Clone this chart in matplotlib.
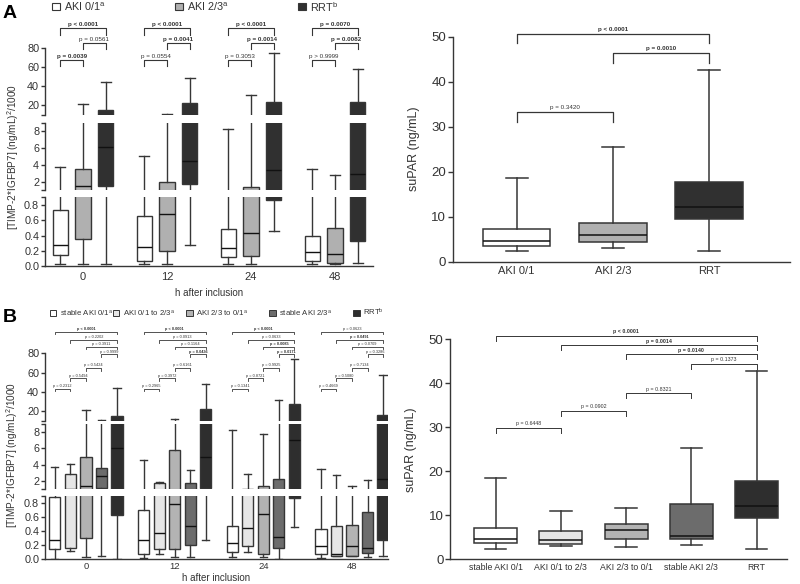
import matplotlib
matplotlib.use('Agg')
import matplotlib.pyplot as plt
from matplotlib.patches import Rectangle

plt.rcParams['font.family'] = ['Liberation Sans', 'DejaVu Sans']
plt.rcParams['mathtext.fontset'] = 'custom'
plt.rcParams['mathtext.rm'] = 'Liberation Sans'
plt.rcParams['mathtext.it'] = 'Liberation Sans:italic'
plt.rcParams['mathtext.bf'] = 'Liberation Sans:bold'

# ---------------- data ----------------
hours = ['0', '12', '24', '48']

# panel A left: TIMP-2*IGFBP7, rows = AKI 0/1, AKI 2/3, RRT ; cols = hours
a_groups = ['AKI 0/1', 'AKI 2/3', 'RRT']
a_low = [[0.02, 0.02, 0.03, 0.02], [0.03, 0.03, 0.02, 0.03], [0.03, 0.27, 0.46, 0.04]]
a_q1 = [[0.15, 0.07, 0.12, 0.06], [0.35, 0.20, 0.13, 0.04], [1.5, 1.7, 0.87, 0.33]]
a_med = [[0.27, 0.25, 0.24, 0.18], [1.5, 0.68, 0.43, 0.16], [6.1, 4.5, 3.4, 2.9]]
a_q3 = [[0.73, 0.65, 0.49, 0.39], [3.5, 1.9, 1.4, 0.5], [14.5, 22, 23.5, 23.5]]
a_high = [[3.7, 5.1, 8.3, 3.5], [21, 11, 31, 2.8], [44, 48.5, 75, 58]]
a_p = [['p = 0.0039', 'p = 0.0561', 'p < 0.0001'],
       ['p = 0.0554', 'p = 0.0041', 'p < 0.0001'],
       ['p = 0.3053', 'p = 0.0014', 'p < 0.0001'],
       ['p > 0.9999', 'p = 0.0082', 'p = 0.0070']]

# panel B left: rows = stable AKI 0/1, AKI 0/1 to 2/3, AKI 2/3 to 0/1, stable AKI 2/3, RRT
b_groups = ['stable AKI 0/1', 'AKI 0/1 to 2/3', 'AKI 2/3 to 0/1', 'stable AKI 2/3', 'RRT']
b_low = [[0.01, 0.02, 0.03, 0.02], [0.12, 0.07, 0.11, 0.04], [0.03, 0.03, 0.03, 0.04],
         [0.04, 0.03, 0.01, 0.03], [0.01, 0.27, 0.46, 0.04]]
b_q1 = [[0.15, 0.08, 0.10, 0.07], [0.16, 0.15, 0.19, 0.05], [0.30, 0.15, 0.08, 0.05],
        [1.15, 0.21, 0.16, 0.09], [0.63, 1.1, 0.87, 0.28]]
b_med = [[0.27, 0.27, 0.23, 0.19], [1.05, 0.37, 0.44, 0.07], [1.4, 0.78, 0.64, 0.19],
         [2.6, 0.47, 0.31, 0.16], [6.1, 4.9, 7.0, 2.3]]
b_q3 = [[0.88, 0.70, 0.47, 0.43], [2.9, 1.8, 1.05, 0.48], [5.0, 5.8, 1.4, 0.49],
        [3.6, 1.8, 2.3, 0.67], [15, 22, 27, 16]]
b_high = [[3.7, 4.6, 8.3, 3.5], [4.1, 1.95, 2.9, 2.8], [21, 11.5, 7.8, 1.35],
          [11, 3.4, 31, 2.2], [44, 48, 74, 57]]
b_p_rrt = [['p < 0.0001', 'p = 0.2202', 'p = 0.3911', 'p = 0.9999'],
           ['p < 0.0001', 'p = 0.0913', 'p = 0.1164', 'p = 0.0436'],
           ['p < 0.0001', 'p = 0.0633', 'p = 0.0085', 'p = 0.0171'],
           ['p = 0.0623', 'p = 0.0491', 'p = 0.0709', 'p = 0.3286']]
b_p_step = [['p = 0.2312', 'p = 0.5494', 'p = 0.5424'],
            ['p = 0.2965', 'p = 0.3972', 'p = 0.6161'],
            ['p = 0.1341', 'p = 0.8721', 'p = 0.9925'],
            ['p = 0.4669', 'p = 0.5080', 'p = 0.7134']]

# suPAR panels
sa_groups = ['AKI 0/1', 'AKI 2/3', 'RRT']
sa_low = [2.4, 3.0, 2.4]
sa_q1 = [3.4, 4.4, 9.4]
sa_med = [4.7, 6.0, 12.1]
sa_q3 = [7.3, 8.6, 17.7]
sa_high = [18.5, 25.4, 42.6]
sa_p = [(0, 1, 'p = 0.3420'), (1, 2, 'p = 0.0010'), (0, 2, 'p < 0.0001')]

sb_groups = ['stable AKI 0/1', 'AKI 0/1 to 2/3', 'AKI 2/3 to 0/1', 'stable AKI 2/3', 'RRT']
sb_low = [2.4, 3.0, 2.9, 3.2, 2.4]
sb_q1 = [3.6, 3.4, 4.7, 4.6, 9.4]
sb_med = [4.7, 4.3, 6.6, 5.4, 12.1]
sb_q3 = [7.1, 6.4, 8.1, 12.5, 17.7]
sb_high = [18.5, 11.0, 11.6, 25.4, 42.7]
sb_p = [(0, 1, 'p = 0.6448'), (1, 2, 'p = 0.0902'), (2, 3, 'p = 0.8321'),
        (3, 4, 'p = 0.1373'), (2, 4, 'p = 0.0140'), (1, 4, 'p = 0.0014'), (0, 4, 'p < 0.0001')]

# ---------------- style ----------------
EDGE = '#363636'
TXT = '#333333'
a_colors = ['white', '#b0b0b0', '#303030']
b_colors = ['white', '#e6e6e6', '#b3b3b3', '#6c6c6c', '#2e2e2e']

W, H = 800, 584
fig = plt.figure(figsize=(8, 5.84), dpi=100)


def fax(x0, y0, x1, y1):
    # pixel box, origin top-left
    return fig.add_axes([x0 / W, 1 - y1 / H, (x1 - x0) / W, (y1 - y0) / H])


def sig(t):
    v = float(t.split()[-1])
    return ('<' in t) or ('>' not in t and v < 0.05)


def bracket(ax, xa, xb, y, leg, text, fs, lw, gap):
    ax.plot([xa, xa, xb, xb], [y - leg, y, y, y - leg], color=EDGE, lw=lw, clip_on=False)
    ax.text((xa + xb) / 2, y + gap, text, ha='center', va='bottom', fontsize=fs,
            fontweight='bold' if sig(text) else 'normal', color=TXT, clip_on=False)


def style(ax, yfs, tlen=3.5):
    for s in ['top', 'right']:
        ax.spines[s].set_visible(False)
    for s in ['left', 'bottom']:
        ax.spines[s].set_color(EDGE)
        ax.spines[s].set_linewidth(1.0)
    ax.tick_params(axis='y', direction='out', length=tlen, width=1.0, color=EDGE,
                   labelsize=yfs, labelcolor=TXT, pad=1.2)
    ax.tick_params(axis='x', length=0, labelcolor=TXT, pad=3)
    ax.patch.set_alpha(0)


def draw_boxes(ax, low, q1, med, q3, high, pos, width, cap, color, lw):
    stats = [dict(whislo=low[t], q1=q1[t], med=med[t], q3=q3[t], whishi=high[t])
             for t in range(len(low))]
    ax.bxp(stats, positions=pos, widths=width, capwidths=cap, patch_artist=True,
           showfliers=False, manage_ticks=False,
           boxprops=dict(facecolor=color, edgecolor=EDGE, lw=lw),
           medianprops=dict(color='#111111', lw=lw),
           whiskerprops=dict(color=EDGE, lw=lw),
           capprops=dict(color=EDGE, lw=lw))


SEGS = [(10, 80, [10, 20, 40, 60, 80], ['', '20', '40', '60', '80']),
        (1, 9, [1, 2, 4, 6, 8, 9], ['', '2', '4', '6', '8', '']),
        (0, 0.9, [0, 0.2, 0.4, 0.6, 0.8, 0.9], ['0.0', '0.2', '0.4', '0.6', '0.8', ''])]


def broken_panel(x0, x1, seg_px, xlim, offsets, width, cap, low, q1, med, q3, high,
                 colors, xfs, xpad):
    axes = []
    for k, ((ylo, yhi, ticks, labels), (pt, pb)) in enumerate(zip(SEGS, seg_px)):
        ax = fax(x0, pt, x1, pb)
        ax.set_ylim(ylo, yhi)
        ax.set_xlim(*xlim)
        for i in range(len(low)):
            draw_boxes(ax, low[i], q1[i], med[i], q3[i], high[i],
                       [t + offsets[i] for t in range(4)], width, cap, colors[i], 1.0)
        style(ax, 7.8, 3.0)
        ax.set_yticks(ticks)
        ax.set_yticklabels(labels)
        if k < 2:
            ax.spines['bottom'].set_visible(False)
            ax.set_xticks([])
        else:
            ax.set_xticks(range(4))
            ax.set_xticklabels(hours, fontsize=xfs)
            ax.tick_params(axis='x', pad=xpad)
        axes.append(ax)
    return axes


# ---------------- panel A left ----------------
a_off = [-0.27, 0, 0.27]
axA = broken_panel(45, 373, [(48, 114.5), (122.7, 190), (197.4, 266)], (-0.452, 3.452),
                   a_off, 0.18, 0.12, a_low, a_q1, a_med, a_q3, a_high, a_colors, 8, 4)
axA[2].set_xlabel('h after inclusion', fontsize=7, color=TXT, labelpad=5)
top = axA[0]
a_levels = [(0, 1, 67.4), (1, 2, 85.6), (0, 2, 100.7)]
for g in range(4):
    for (i, j, y), txt in zip(a_levels, a_p[g]):
        bracket(top, g + a_off[i], g + a_off[j], y, 6.8, txt, 4.5, 0.8, 1.2)
fig.text(13 / W, 1 - 157 / H, '[TIMP-2*IGFBP7] (ng/mL)$^2$/1000', rotation=90,
         ha='center', va='center', fontsize=7.2, color=TXT)

# legend A
for x, c, lab in [(52, a_colors[0], r'AKI 0/1$^{\mathrm{a}}$'), (175, a_colors[1], r'AKI 2/3$^{\mathrm{a}}$'),
                  (298, a_colors[2], r'RRT$^{\mathrm{b}}$')]:
    fig.add_artist(Rectangle((x / W, 1 - 9.5 / H), 8 / W, 7 / H, facecolor=c,
                             edgecolor=EDGE, lw=0.8, transform=fig.transFigure))
    fig.text((x + 12) / W, 1 - 7 / H, lab, fontsize=7.8, color=TXT, va='center')
fig.text(3 / W, 1 - 13 / H, 'A', fontsize=14, fontweight='bold', va='center')

# ---------------- panel B left ----------------
b_off = [-0.35, -0.175, 0, 0.175, 0.35]
axB = broken_panel(45, 388, [(353.3, 420.6), (424, 489.3), (496, 559.3)], (-0.462, 3.406),
                   b_off, 0.125, 0.08, b_low, b_q1, b_med, b_q3, b_high, b_colors, 6.8, 2)
axB[2].set_xlabel('h after inclusion', fontsize=7, color=TXT, labelpad=1.5)
topB = axB[0]
rrt_levels = [102.2, 93.8, 86.6, 78.8]
step_levels = [42.9, 53.8, 64.7]
for g in range(4):
    for i in range(4):
        bracket(topB, g + b_off[i], g + b_off[4], rrt_levels[i], 2.6, b_p_rrt[g][i], 2.8, 0.6, 0.6)
    for i in range(3):
        bracket(topB, g + b_off[i], g + b_off[i + 1], step_levels[i], 2.6, b_p_step[g][i], 2.8, 0.6, 0.6)
fig.text(12 / W, 1 - 455 / H, '[TIMP-2*IGFBP7] (ng/mL)$^2$/1000', rotation=90,
         ha='center', va='center', fontsize=7.2, color=TXT)

# legend B
for x, c, lab in [(50, b_colors[0], r'stable AKI 0/1$^{\mathrm{a}}$'),
                  (113, b_colors[1], r'AKI 0/1 to 2/3$^{\mathrm{a}}$'),
                  (186, b_colors[2], r'AKI 2/3 to 0/1$^{\mathrm{a}}$'),
                  (269, b_colors[3], r'stable AKI 2/3$^{\mathrm{a}}$'),
                  (353, b_colors[4], r'RRT$^{\mathrm{b}}$')]:
    fig.add_artist(Rectangle((x / W, 1 - 315.5 / H), 6.5 / W, 6 / H, facecolor=c,
                             edgecolor=EDGE, lw=0.7, transform=fig.transFigure))
    fig.text((x + 10) / W, 1 - 312.5 / H, lab, fontsize=5.6, color=TXT, va='center')
fig.text(3 / W, 1 - 318 / H, 'B', fontsize=14, fontweight='bold', va='center')

# ---------------- panel A right ----------------
axSA = fax(452.7, 36.7, 790, 261.7)
for i in range(len(sa_groups)):
    draw_boxes(axSA, [sa_low[i]], [sa_q1[i]], [sa_med[i]], [sa_q3[i]], [sa_high[i]],
               [i], 0.7, 0.23, a_colors[i], 1.1)
axSA.set_xlim(-0.665, 2.842)
axSA.set_ylim(0, 50)
style(axSA, 9.5)
axSA.set_yticks([0, 10, 20, 30, 40, 50])
axSA.set_xticks(range(len(sa_groups)))
axSA.set_xticklabels(sa_groups, fontsize=8)
axSA.set_ylabel('suPAR (ng/mL)', fontsize=9, color=TXT, labelpad=8)
sa_levels = {(0, 1): (33.3, 2.2), (1, 2): (46.3, 2.2), (0, 2): (50.5, 1.8)}
for i, j, txt in sa_p:
    y, leg = sa_levels[(i, j)]
    bracket(axSA, i, j, y, leg, txt, 4.5, 0.9, 0.5)

# ---------------- panel B right ----------------
axSB = fax(450, 339.3, 786.7, 559.3)
for i in range(len(sb_groups)):
    draw_boxes(axSB, [sb_low[i]], [sb_q1[i]], [sb_med[i]], [sb_q3[i]], [sb_high[i]],
               [i], 0.66, 0.33, b_colors[i], 1.1)
axSB.set_xlim(-0.70, 4.46)
axSB.set_ylim(0, 50)
style(axSB, 9.5)
axSB.set_yticks([0, 10, 20, 30, 40, 50])
axSB.set_xticks(range(len(sb_groups)))
axSB.set_xticklabels(sb_groups, fontsize=6.3)
axSB.set_ylabel('suPAR (ng/mL)', fontsize=9, color=TXT, labelpad=8)
sb_levels = {(0, 1): 29.8, (1, 2): 33.7, (2, 3): 37.7, (3, 4): 44.4,
             (2, 4): 46.6, (1, 4): 48.6, (0, 4): 50.7}
for i, j, txt in sb_p:
    bracket(axSB, i, j, sb_levels[(i, j)], 1.1, txt, 3.8, 0.7, 0.4)

fig.savefig('out.png', dpi=100)
